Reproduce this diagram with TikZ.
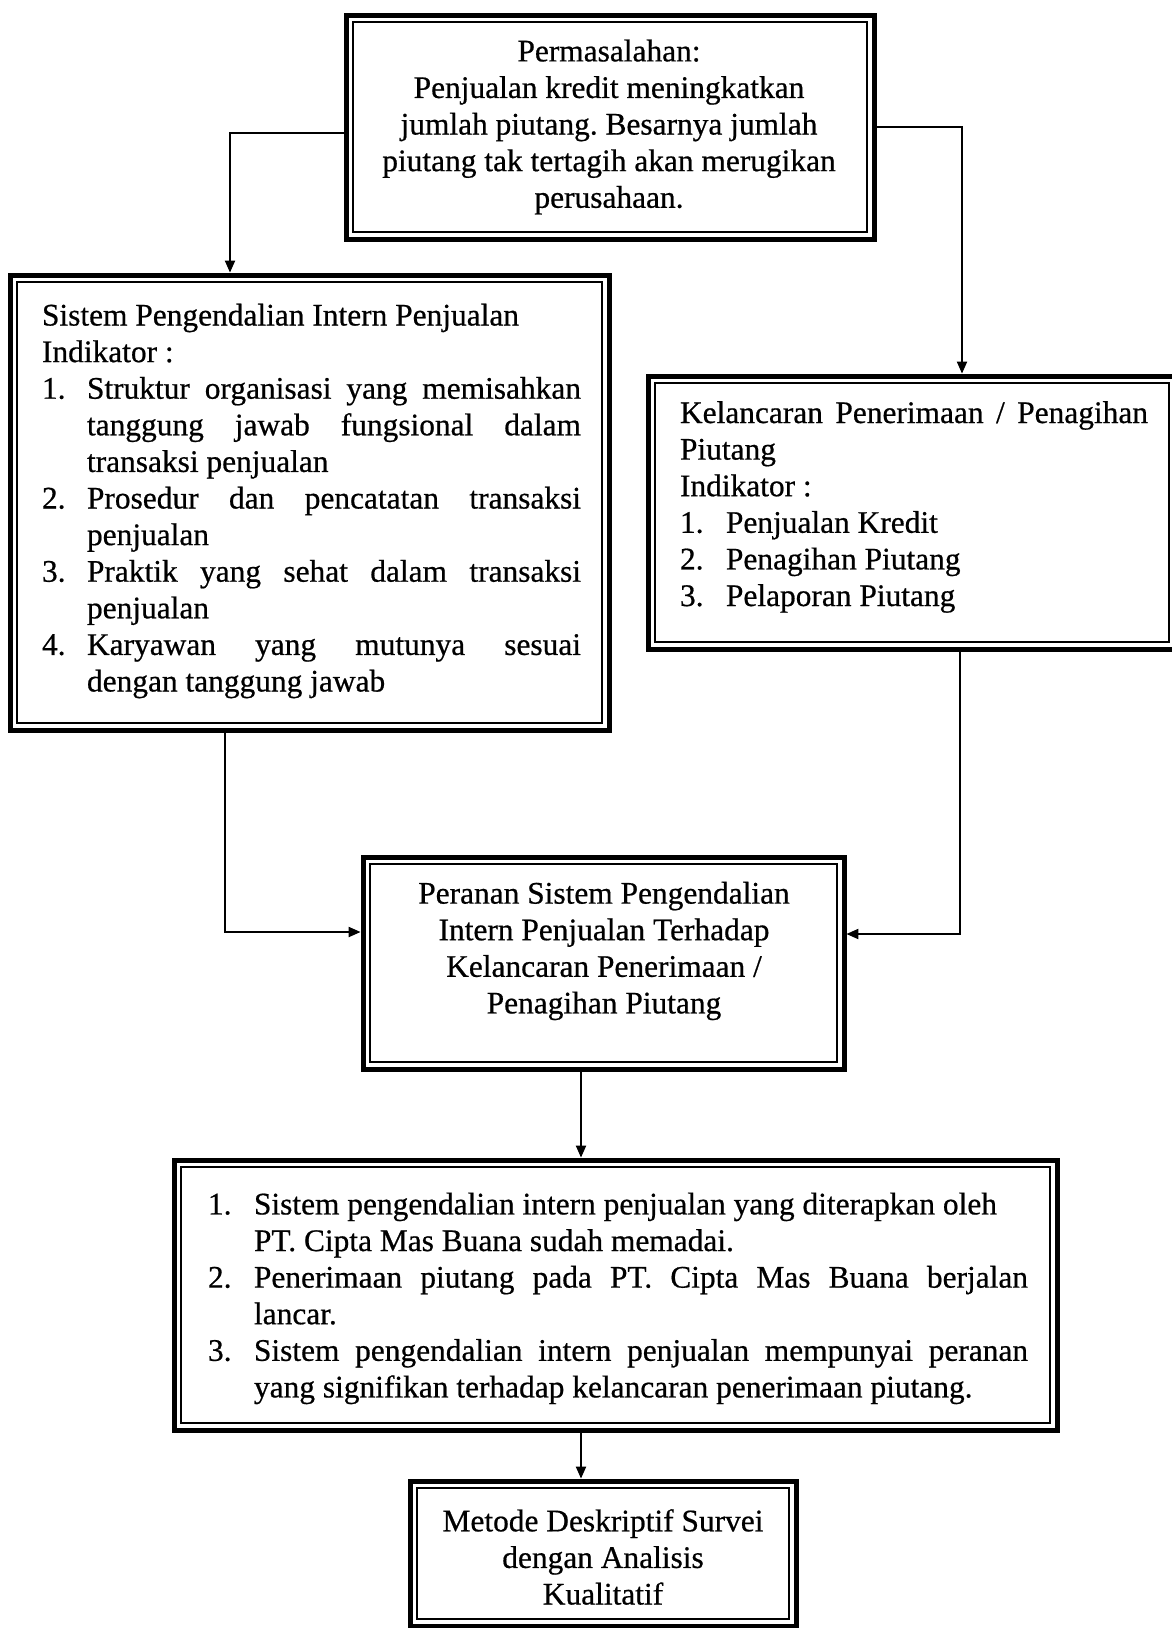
\documentclass[tikz,border=0pt]{standalone}
\usepackage{fontspec}
\setmainfont{Liberation Serif}[FakeBold=0.6]
\usetikzlibrary{arrows.meta,fit,calc}
\frenchspacing
\tikzset{
  frame/.style={draw, line width=2.5pt, inner sep=0pt, outer sep=0pt},
  conn/.style={line width=1pt, -{Triangle[length=6pt,width=5pt]}, shorten >=1.2pt},
  txt/.style={inner sep=0pt, font=\fontsize{15.7}{18.3}\selectfont},
}
\newcommand{\innerframe}[1]{\draw[line width=0.7pt] ([shift={(3.5pt,-3.5pt)}]#1.north west) rectangle ([shift={(-3.5pt,3.5pt)}]#1.south east);}
\newcommand{\itm}[2]{\par\noindent\hangindent=#1\hangafter=1\makebox[#1][l]{#2}}
\begin{document}
\begin{tikzpicture}[x=0.5pt,y=-0.5pt]
\useasboundingbox (0,0) rectangle (1172,1628);
% boxes
\node[frame, fit={(346,15) (874,239)}] (prob) {};
\node[frame, fit={(10,275) (609,730)}] (spi) {};
\node[frame, fit={(648,376) (1176,649)}] (kel) {};
\node[frame, fit={(363,857) (844,1069)}] (per) {};
\node[frame, fit={(174,1160) (1057,1430)}] (hasil) {};
\node[frame, fit={(410,1481) (796,1626)}] (met) {};
\innerframe{prob}
\innerframe{spi}
\innerframe{kel}
\innerframe{per}
\innerframe{hasil}
\innerframe{met}
% texts
\node[txt, align=center] (probtxt) at (609,127) {Permasalahan:\\Penjualan kredit meningkatkan\\jumlah piutang. Besarnya jumlah\\piutang tak tertagih akan merugikan\\perusahaan.};
\node[txt, text width=269.5pt, align=justify] (spitxt) at (311.5,501) {\setlength{\parindent}{0pt}%
Sistem Pengendalian Intern Penjualan\par
Indikator :
\itm{22.5pt}{1.}Struktur organisasi yang memisahkan\linebreak tanggung jawab fungsional dalam\linebreak transaksi penjualan
\itm{22.5pt}{2.}Prosedur dan pencatatan transaksi\linebreak penjualan
\itm{22.5pt}{3.}Praktik yang sehat dalam transaksi\linebreak penjualan
\itm{22.5pt}{4.}Karyawan yang mutunya sesuai\linebreak dengan tanggung jawab\par};
\node[txt, text width=234pt, align=justify] (keltxt) at (914,507) {\setlength{\parindent}{0pt}%
Kelancaran Penerimaan / Penagihan\linebreak Piutang\par
Indikator :
\itm{23pt}{1.}Penjualan Kredit
\itm{23pt}{2.}Penagihan Piutang
\itm{23pt}{3.}Pelaporan Piutang\par};
\node[txt, align=center] (pertxt) at (604,951) {Peranan Sistem Pengendalian\\Intern Penjualan Terhadap\\Kelancaran Penerimaan /\\Penagihan Piutang};
\node[txt, text width=410pt, align=justify] (hasiltxt) at (618,1291) {\setlength{\parindent}{0pt}%
\itm{23pt}{1.}Sistem pengendalian intern penjualan yang diterapkan oleh\\PT. Cipta Mas Buana sudah memadai.
\itm{23pt}{2.}Penerimaan piutang pada PT. Cipta Mas Buana berjalan\linebreak lancar.
\itm{23pt}{3.}Sistem pengendalian intern penjualan mempunyai peranan\linebreak yang signifikan terhadap kelancaran penerimaan piutang.\par};
\node[txt, align=center] (mettxt) at (603,1557) {Metode Deskriptif Survei\\dengan Analisis\\Kualitatif};
% connectors
\draw[conn] ([yshift=-3pt]prob.west) -| (230,0 |- spi.north);
\draw[conn] (prob.east) -| (962,0 |- kel.north);
\draw[conn] (spi.south -| 225,0) |- ([yshift=15.5pt]per.west);
\draw[conn] (kel.south -| 960,0) |- ([yshift=14.5pt]per.east);
\draw[conn] (per.south -| 581,0) -- (581,0 |- hasil.north);
\draw[conn] (hasil.south -| 581,0) -- (581,0 |- met.north);
\end{tikzpicture}
\end{document}
